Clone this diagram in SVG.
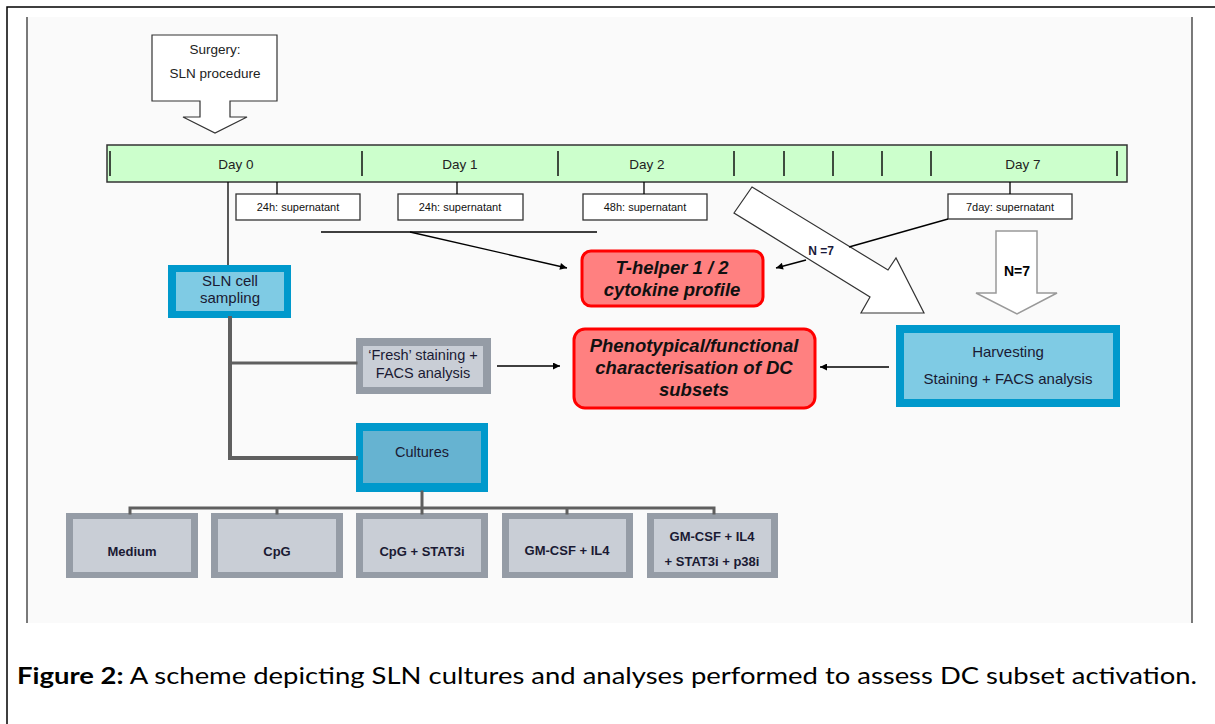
<svg xmlns="http://www.w3.org/2000/svg" width="1215" height="724" viewBox="0 0 1215 724">
  <style>
    .sans { font-family: "Liberation Sans", Arial, sans-serif; }
    .thin { stroke: #000; stroke-width: 1.3; fill: none; }
    .trunk { stroke: #5f5f5f; fill: none; stroke-linecap: square; }
    .sup rect { fill: #fff; stroke: #333; stroke-width: 1.3; }
    .sup text { font-family: "Liberation Sans", Arial, sans-serif; font-size: 11px; fill: #111; text-anchor: middle; }
    .blueO { fill: #0099cc; }
    .blueI { fill: #7fcbe4; }
    .greyO { fill: #959ca6; }
    .greyI { fill: #c9ced6; }
    .lbl { font-family: "Liberation Sans", Arial, sans-serif; fill: #1a1a33; text-anchor: middle; }
    .bold { font-weight: bold; }
    .red rect { fill: #ff8080; stroke: #ff0000; stroke-width: 3; }
    .red text { font-family: "Liberation Sans", Arial, sans-serif; font-weight: bold; font-style: italic; font-size: 18.5px; fill: #111; text-anchor: middle; }
    .day { font-family: "Liberation Sans", Arial, sans-serif; font-size: 13.5px; fill: #222; text-anchor: middle; }
    .tick { stroke: #111; stroke-width: 1.5; }
    .hollow { fill: #fff; stroke: #333; stroke-width: 1.2; }
  </style>
  <defs>
    <marker id="arr" viewBox="0 0 10 10" refX="10" refY="5" markerWidth="9" markerHeight="7" markerUnits="userSpaceOnUse" orient="auto">
      <path d="M0,0 L10,5 L0,10 z" fill="#000"/>
    </marker>
  </defs>

  <!-- page frame -->
  <rect x="0" y="0" width="1215" height="724" fill="#fff"/>
  <rect x="27" y="17" width="1165" height="606" fill="#fafafa"/>
  <path d="M7,724 V7 H1215" fill="none" stroke="#000" stroke-width="1.5"/>
  <line x1="27" y1="17" x2="27" y2="623" stroke="#222" stroke-width="1.2"/>
  <line x1="1192" y1="17" x2="1192" y2="623" stroke="#222" stroke-width="1.2"/>

  <!-- surgery callout -->
  <g id="surgery">
    <polygon class="hollow" stroke="#444" points="152,35 277,35 277,101 230,101 230,117 247,117 215,133 183,117 200,117 200,101 152,101"/>
    <text class="sans" font-size="13.5" fill="#222" text-anchor="middle" x="215" y="54">Surgery:</text>
    <text class="sans" font-size="13.5" fill="#222" text-anchor="middle" x="215" y="78">SLN procedure</text>
  </g>

  <!-- timeline -->
  <g id="timeline">
    <rect x="107" y="145" width="1020" height="37" fill="#ccffcc" stroke="#333" stroke-width="1.5"/>
    <line class="tick" x1="110" y1="151" x2="110" y2="176"/>
    <line class="tick" x1="362" y1="151" x2="362" y2="176"/>
    <line class="tick" x1="558" y1="151" x2="558" y2="176"/>
    <line class="tick" x1="734" y1="151" x2="734" y2="176"/>
    <line class="tick" x1="784" y1="151" x2="784" y2="176"/>
    <line class="tick" x1="833" y1="151" x2="833" y2="176"/>
    <line class="tick" x1="882" y1="151" x2="882" y2="176"/>
    <line class="tick" x1="931" y1="151" x2="931" y2="176"/>
    <line class="tick" x1="1117" y1="151" x2="1117" y2="176"/>
    <text class="day" x="236" y="169">Day 0</text>
    <text class="day" x="460" y="169">Day 1</text>
    <text class="day" x="647" y="169">Day 2</text>
    <text class="day" x="1023" y="169">Day 7</text>
  </g>

  <!-- supernatant samples -->
  <g id="sup24a" class="sup">
    <rect x="236" y="194" width="124" height="26"/>
    <text x="298" y="211">24h: supernatant</text>
  </g>
  <g id="sup24b" class="sup">
    <rect x="398" y="194" width="125" height="26"/>
    <text x="460" y="211">24h: supernatant</text>
  </g>
  <g id="sup48" class="sup">
    <rect x="583" y="194" width="124" height="26"/>
    <text x="645" y="211">48h: supernatant</text>
  </g>
  <g id="sup7d" class="sup">
    <rect x="948" y="194" width="124" height="25"/>
    <text x="1010" y="211">7day: supernatant</text>
  </g>

  <!-- hollow arrows -->
  <g id="arrowDiag">
    <polygon class="hollow" points="752,187 888,270 896,258 924,313 861,313 870,297 734,213"/>
  </g>
  <g id="arrowN7">
    <polygon fill="#fff" stroke="#999" stroke-width="1.5" points="996,231 1037,231 1037,293 1057,293 1017,314 976,293 996,293"/>
    <text class="sans bold" font-size="14" fill="#000" text-anchor="middle" x="1017" y="276">N=7</text>
  </g>

  <!-- result nodes -->
  <g id="thelper" class="red">
    <rect x="582" y="251" width="181" height="55" rx="9"/>
    <text x="672" y="274">T-helper 1 / 2</text>
    <text x="672" y="296">cytokine profile</text>
  </g>
  <g id="pheno" class="red">
    <rect x="574" y="329" width="241" height="79" rx="11"/>
    <text x="694" y="352">Phenotypical/functional</text>
    <text x="694" y="374">characterisation of DC</text>
    <text x="694" y="396">subsets</text>
  </g>

  <!-- process nodes -->
  <g id="sln">
    <rect class="blueO" x="168" y="265" width="123" height="53"/>
    <rect class="blueI" x="176" y="272" width="108" height="39"/>
    <text class="lbl" font-size="15" x="230" y="286">SLN cell</text>
    <text class="lbl" font-size="15" x="230" y="303">sampling</text>
  </g>
  <g id="fresh">
    <rect class="greyO" x="356" y="338" width="135" height="56"/>
    <rect class="greyI" x="363" y="346" width="120" height="41"/>
    <text class="lbl" font-size="14.5" x="423" y="360">‘Fresh’ staining +</text>
    <text class="lbl" font-size="14.5" x="423" y="378">FACS analysis</text>
  </g>
  <g id="harvest">
    <rect class="blueO" x="896" y="325" width="224" height="82"/>
    <rect class="blueI" x="904" y="333" width="209" height="66"/>
    <text class="lbl" font-size="15" x="1008" y="357">Harvesting</text>
    <text class="lbl" font-size="15" x="1008" y="384">Staining + FACS analysis</text>
  </g>
  <g id="cultures">
    <rect class="blueO" x="356" y="423" width="132" height="69"/>
    <rect fill="#66b3d1" x="363" y="431" width="118" height="52"/>
    <text class="lbl" font-size="14.5" x="422" y="457">Cultures</text>
  </g>

  <!-- culture conditions -->
  <g id="medium">
    <rect class="greyO" x="66" y="513" width="132" height="65"/>
    <rect class="greyI" x="73" y="519" width="118" height="53"/>
    <text class="lbl bold" font-size="13" x="132" y="556">Medium</text>
  </g>
  <g id="cpg">
    <rect class="greyO" x="211" y="513" width="132" height="65"/>
    <rect class="greyI" x="218" y="519" width="118" height="53"/>
    <text class="lbl bold" font-size="13" x="277" y="556">CpG</text>
  </g>
  <g id="cpgStat">
    <rect class="greyO" x="356" y="513" width="132" height="65"/>
    <rect class="greyI" x="363" y="519" width="118" height="53"/>
    <text class="lbl bold" font-size="13" x="422" y="556">CpG + STAT3i</text>
  </g>
  <g id="gmcsf">
    <rect class="greyO" x="502" y="513" width="131" height="65"/>
    <rect class="greyI" x="509" y="519" width="117" height="53"/>
    <text class="lbl bold" font-size="13" x="567" y="555">GM-CSF + IL4</text>
  </g>
  <g id="gmcsfInh">
    <rect class="greyO" x="647" y="513" width="131" height="65"/>
    <rect class="greyI" x="654" y="519" width="117" height="53"/>
    <text class="lbl bold" font-size="13" x="712" y="541">GM-CSF + IL4</text>
    <text class="lbl bold" font-size="13" x="712" y="566">+ STAT3i + p38i</text>
  </g>

  <!-- connectors -->
  <g id="connectors">
    <!-- timeline drop lines -->
    <line class="thin" x1="228" y1="182" x2="228" y2="265"/>
    <line class="thin" x1="277" y1="182" x2="277" y2="194"/>
    <line class="thin" x1="457" y1="182" x2="457" y2="194"/>
    <line class="thin" x1="644" y1="182" x2="644" y2="194"/>
    <line class="thin" x1="1010" y1="182" x2="1010" y2="194"/>
    <!-- supernatant collection to cytokine profile -->
    <line class="thin" x1="321" y1="232" x2="597" y2="232"/>
    <line class="thin" x1="410" y1="232" x2="567" y2="268" marker-end="url(#arr)"/>
    <line class="thin" x1="948" y1="219" x2="849" y2="247"/>
    <line class="thin" x1="806" y1="260" x2="776" y2="268" marker-end="url(#arr)"/>
    <text class="sans bold" font-size="12" fill="#1a1a3a" text-anchor="middle" x="821" y="255">N =7</text>
    <!-- phenotyping inputs -->
    <line class="thin" x1="497" y1="366" x2="560" y2="366" marker-end="url(#arr)"/>
    <line class="thin" x1="889" y1="367" x2="820" y2="367" marker-end="url(#arr)"/>
    <!-- sampling tree -->
    <path class="trunk" stroke-width="4" d="M230,318 V458 H356"/>
    <line class="trunk" stroke-width="3" x1="230" y1="363" x2="356" y2="363"/>
    <path class="trunk" stroke-width="3" d="M422,492 V513 M130,513 V508 H714 V513 M277,508 V513 M567,508 V513"/>
  </g>

  <!-- caption -->
  <text x="17" y="684" font-family="Lato, 'Open Sans', sans-serif" font-size="23" fill="#000" textLength="1180" lengthAdjust="spacingAndGlyphs"><tspan font-weight="bold">Figure 2:</tspan> A scheme depicting SLN cultures and analyses performed to assess DC subset activation.</text>
</svg>
